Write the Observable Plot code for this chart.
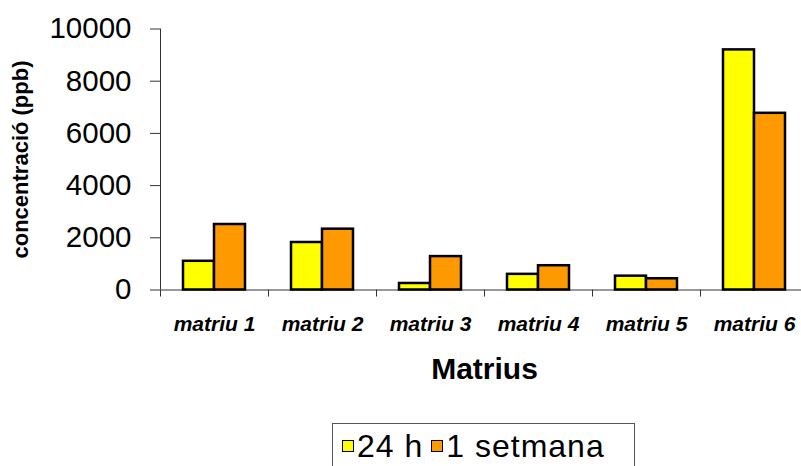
<!DOCTYPE html>
<html><head><meta charset="utf-8">
<script src="https://cdn.jsdelivr.net/npm/d3@7"></script>
<script src="https://cdn.jsdelivr.net/npm/@observablehq/plot@0.6"></script>
<style>
html,body{margin:0;padding:0;background:#fff;overflow:hidden;}
#wrap{position:relative;width:801px;height:466px;font-family:"Liberation Sans",Arial,sans-serif;}
#legend{position:absolute;left:332px;top:423px;width:303px;height:60px;border:1px solid #555;box-sizing:border-box;display:flex;align-items:center;height:46px;padding-left:9px;font-size:32px;letter-spacing:1px;color:#000;white-space:nowrap;}
.sw{display:inline-block;width:10px;height:10px;border:1.5px solid #000;margin-right:3px;}
.item{display:flex;align-items:center;margin-right:8px;}
</style>
</head><body><div id="wrap"></div>
<script>
const categories = ["matriu 1","matriu 2","matriu 3","matriu 4","matriu 5","matriu 6"];
const series = ["24 h","1 setmana"];
const values24h = [1100, 1820, 250, 600, 530, 9200];
const values1setmana = [2510, 2330, 1280, 930, 430, 6770];
const yTicks = [0, 2000, 4000, 6000, 8000, 10000];
const colors = ["#FFFF00", "#FF9900"];
const xLabel = "Matrius";
const yLabel = "concentració (ppb)";

const rows = categories.map((c,i)=>({cat:c, a:values24h[i], b:values1setmana[i]}));

const chart = Plot.plot({
  width: 801, height: 466,
  marginLeft: 160, marginRight: -7, marginTop: 28.5, marginBottom: 176.5,
  style: {fontFamily: '"Liberation Sans", Arial, sans-serif', color: "#000", background: "#fff", overflow: "visible"},
  x: {domain: categories, padding: 0, axis: null},
  y: {domain: [0, 10000], axis: null},
  marks: [
    Plot.ruleX([categories[0]], {x: d=>d, dx: -54, stroke: "#333", strokeWidth: 1}),
    Plot.ruleY([0], {stroke: "#333", strokeWidth: 1}),
    Plot.axisY({ticks: yTicks, tickSize: 10, tickPadding: 19, fontSize: 29.5, stroke: "#333", tickFormat: d=>String(d), label: null}),
    Plot.axisX({tickSize: 7, dx: -54, tickFormat: () => "", stroke: "#333", label: null}),
    Plot.axisX({tickSize: 0, tickPadding: 26, fontSize: 21, fontWeight: "bold", fontStyle: "italic", label: null}),
    Plot.barY(rows, {x: "cat", y: "a", fill: colors[0], stroke: "#000", strokeWidth: 2.5, insetLeft: 23, insetRight: 54}),
    Plot.barY(rows, {x: "cat", y: "b", fill: colors[1], stroke: "#000", strokeWidth: 2.5, insetLeft: 54, insetRight: 23}),
    Plot.text([xLabel], {frameAnchor: "bottom", dy: 79, fontSize: 30, fontWeight: "bold", lineAnchor: "middle", textAnchor: "middle"}),
    Plot.text([yLabel], {frameAnchor: "left", dx: -140, rotate: -90, fontSize: 22, fontWeight: "bold", lineAnchor: "middle", textAnchor: "middle"})
  ]
});
const wrap = document.getElementById("wrap");
wrap.appendChild(chart);
const leg = document.createElement("div");
leg.id = "legend";
series.forEach((s,i)=>{
  const it = document.createElement("div"); it.className="item";
  const sw = document.createElement("span"); sw.className="sw"; sw.style.background = colors[i];
  const tx = document.createElement("span"); tx.textContent = s;
  it.appendChild(sw); it.appendChild(tx); leg.appendChild(it);
});
wrap.appendChild(leg);
</script></body></html>
